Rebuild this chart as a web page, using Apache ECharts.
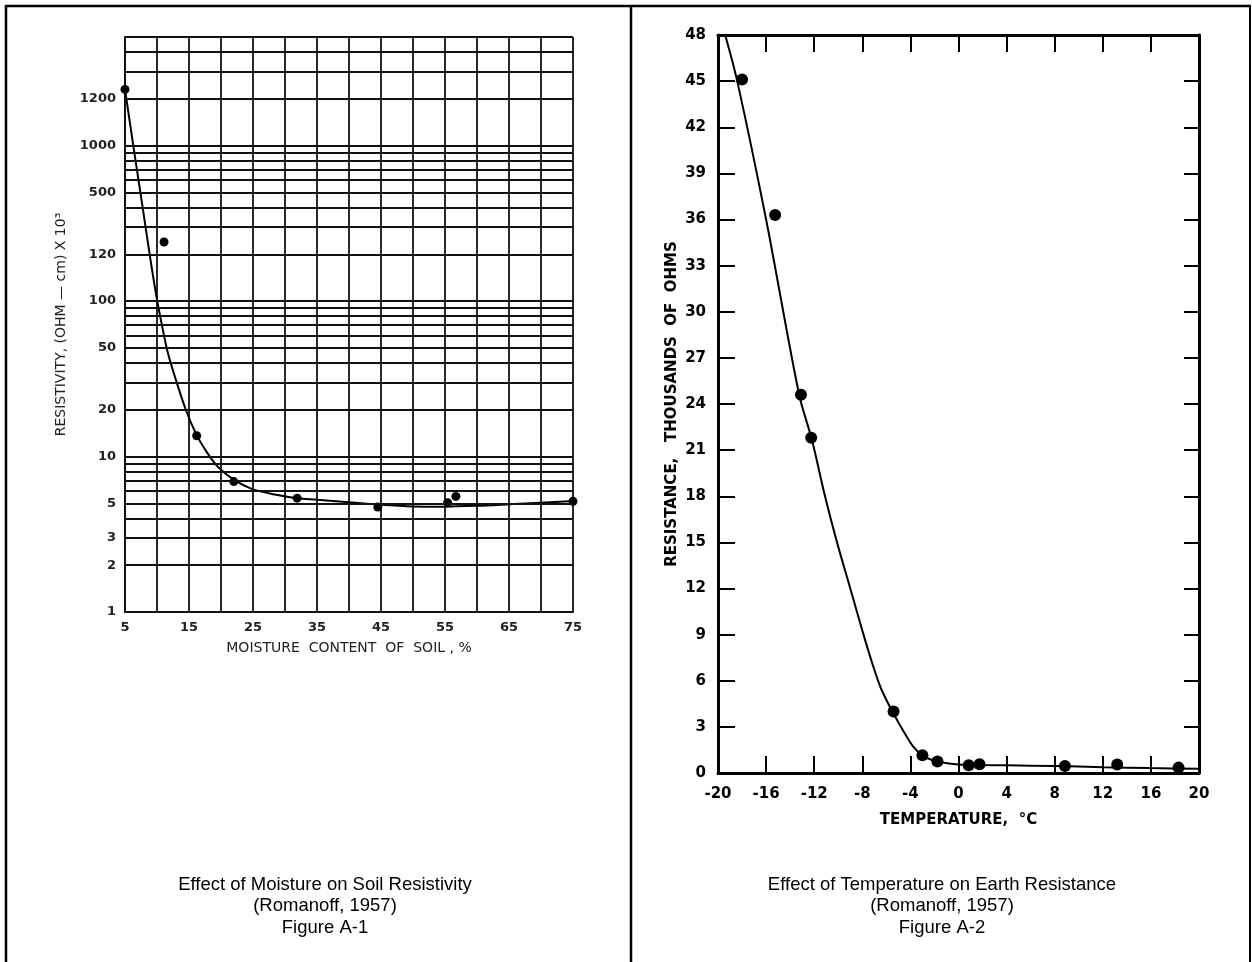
<!DOCTYPE html>
<html>
<head>
<meta charset="utf-8">
<title>Romanoff 1957 - Figures A-1 and A-2</title>
<script src="https://cdn.jsdelivr.net/npm/echarts@6.0.0/dist/echarts.min.js"></script>
<style>
  html, body { margin: 0; padding: 0; background: #fff; }
  #chart { width: 1252px; height: 962px; }
</style>
</head>
<body>
<div id="chart"></div>
<script>
// Figure A-1 : moisture content (%) vs resistivity (log scale)
const moistX = [5, 11.1, 16.2, 22.0, 31.9, 44.5, 55.4, 56.7, 75];
const moistY = [2300, 240, 13.6, 6.9, 5.4, 4.73, 5.05, 5.54, 5.15];
const moistCurveX = [5, 6.25, 7.5, 8.9, 9.85, 10.8, 11.7, 13.0, 14.5, 16.1, 17.7, 19.5, 22.0, 24.8, 28.4, 31.9, 35, 40, 45, 50, 55, 60, 65, 70, 75];
const moistCurveY = [2300, 1030, 471, 194, 111, 69, 46.4, 30.7, 20, 14.0, 10.8, 8.6, 7.1, 6.2, 5.7, 5.4, 5.28, 5.08, 4.9, 4.78, 4.76, 4.82, 4.93, 5.05, 5.17];
// horizontal rulings of the log paper
const moistGridValues = [1, 2, 3, 4, 5, 6, 7, 8, 9, 10, 20, 30, 40, 50, 60, 70, 80, 90,
  100, 200, 300, 400, 500, 600, 700, 800, 900, 1000, 2000, 3000, 4000, 5000];
// printed labels (the original sheet labels 200 as "120" and 2000 as "1200")
const moistTickValues = [1, 2, 3, 5, 10, 20, 50, 100, 200, 500, 1000, 2000];
const moistTickLabels = ['1', '2', '3', '5', '10', '20', '50', '100', '120', '500', '1000', '1200'];

// Figure A-2 : temperature (°C) vs resistance (thousands of ohms)
const tempX = [-18.0, -15.25, -13.1, -12.25, -5.4, -3.0, -1.75, 0.85, 1.75, 8.85, 13.2, 18.3];
const tempY = [45.1, 36.3, 24.6, 21.8, 4.0, 1.15, 0.75, 0.5, 0.57, 0.45, 0.55, 0.35];
const tempCurveX = [-19.4, -18.4, -16, -13.25, -12.2, -11.1, -10.1, -9.0, -7.9, -7.2, -6.5, -5.9, -5.4, -4.6, -3.8, -3.0, -2.2, -1.2, 0, 2, 4, 8, 12, 16, 20];
const tempCurveY = [48, 45, 36, 24.6, 21.7, 18, 15, 12, 9.0, 7.2, 5.6, 4.6, 3.85, 2.75, 1.75, 1.15, 0.85, 0.66, 0.56, 0.52, 0.5, 0.45, 0.38, 0.32, 0.27];

const pair = (xs, ys) => xs.map((x, i) => [x, ys[i]]);

const ink = '#000';
const letterFont = 'DejaVu Sans';

const moistLines = moistGridValues.map(v => {
  const i = moistTickValues.indexOf(v);
  return {
    yAxis: v,
    label: { show: i >= 0, formatter: i >= 0 ? moistTickLabels[i] : '' }
  };
});

const captionStyle = { fontFamily: 'Liberation Sans', fontSize: 18.5, fontWeight: 'normal', lineHeight: 21.5, color: '#000' };

const myChart = echarts.init(document.getElementById('chart'));

const option = {
  backgroundColor: '#fff',
  animation: false,
  title: [
    {
      text: 'Effect of Moisture on Soil Resistivity\n(Romanoff, 1957)\nFigure A-1',
      left: 320, top: 869, textAlign: 'center', textStyle: captionStyle
    },
    {
      text: 'Effect of Temperature on Earth Resistance\n(Romanoff, 1957)\nFigure A-2',
      left: 937, top: 869, textAlign: 'center', textStyle: captionStyle
    }
  ],
  graphic: [
    // page frame and divider
    { type: 'line', shape: { x1: 5, y1: 6, x2: 1251, y2: 6 }, style: { stroke: '#000', lineWidth: 2.5 } },
    { type: 'line', shape: { x1: 6, y1: 5, x2: 6, y2: 962 }, style: { stroke: '#000', lineWidth: 2.5 } },
    { type: 'line', shape: { x1: 631, y1: 5, x2: 631, y2: 962 }, style: { stroke: '#000', lineWidth: 2.5 } },
    { type: 'line', shape: { x1: 1250, y1: 5, x2: 1250, y2: 962 }, style: { stroke: '#000', lineWidth: 2 } }
  ],
  grid: [
    { left: 125, top: 37, width: 448, height: 575 },
    { left: 718, top: 35, width: 481, height: 738 }
  ],
  xAxis: [
    {
      gridIndex: 0, type: 'value', min: 5, max: 75, interval: 5,
      name: 'MOISTURE  CONTENT  OF  SOIL , %', nameLocation: 'middle', nameGap: 29,
      nameTextStyle: { fontFamily: letterFont, fontSize: 14, color: '#222' },
      axisLine: { onZero: false, lineStyle: { color: '#111', width: 2 } },
      axisTick: { show: false },
      splitLine: { show: true, lineStyle: { color: '#111', width: 1.8 } },
      axisLabel: {
        margin: 9, fontFamily: letterFont, fontSize: 13, fontWeight: 'bold', color: '#222',
        formatter: v => ((v - 5) % 10 === 0 ? String(v) : '')
      }
    },
    {
      gridIndex: 1, type: 'value', min: -20, max: 20, interval: 4,
      name: 'TEMPERATURE,  °C', nameLocation: 'middle', nameGap: 40,
      nameTextStyle: { fontFamily: letterFont, fontSize: 15, fontWeight: 'bold', color: ink },
      axisLine: { onZero: false, lineStyle: { color: ink, width: 3 } },
      axisTick: { inside: true, length: 17, lineStyle: { color: ink, width: 2 } },
      splitLine: { show: false },
      axisLabel: { margin: 14, fontFamily: letterFont, fontSize: 15, fontWeight: 'bold', color: ink }
    },
    {
      gridIndex: 1, type: 'value', min: -20, max: 20, interval: 4, position: 'top',
      axisLine: { onZero: false, lineStyle: { color: ink, width: 3 } },
      axisTick: { inside: true, length: 17, lineStyle: { color: ink, width: 2 } },
      splitLine: { show: false },
      axisLabel: { show: false }
    }
  ],
  yAxis: [
    {
      gridIndex: 0, type: 'log', logBase: 10, min: 1, max: 5000,
      name: 'RESISTIVITY, (OHM — cm) X 10³', nameLocation: 'middle', nameGap: 57,
      nameTextStyle: { fontFamily: letterFont, fontSize: 14, color: '#222' },
      axisLine: { onZero: false, lineStyle: { color: '#111', width: 2 } },
      axisTick: { show: false },
      splitLine: { show: false },
      axisLabel: { show: false }
    },
    {
      gridIndex: 1, type: 'value', min: 0, max: 48, interval: 3,
      name: 'RESISTANCE,   THOUSANDS  OF  OHMS', nameLocation: 'middle', nameGap: 38,
      nameTextStyle: { fontFamily: letterFont, fontSize: 15, fontWeight: 'bold', color: ink },
      axisLine: { onZero: false, lineStyle: { color: ink, width: 3 } },
      axisTick: { inside: true, length: 17, lineStyle: { color: ink, width: 2 } },
      splitLine: { show: false },
      axisLabel: { margin: 12, fontFamily: letterFont, fontSize: 15, fontWeight: 'bold', color: ink }
    },
    {
      gridIndex: 1, type: 'value', min: 0, max: 48, interval: 3, position: 'right',
      axisLine: { onZero: false, lineStyle: { color: ink, width: 3 } },
      axisTick: { inside: true, length: 15, lineStyle: { color: ink, width: 2 } },
      splitLine: { show: false },
      axisLabel: { show: false }
    }
  ],
  series: [
    {
      name: 'moisture curve', type: 'line', xAxisIndex: 0, yAxisIndex: 0,
      data: pair(moistCurveX, moistCurveY), smooth: 0.3, showSymbol: false,
      lineStyle: { color: ink, width: 2 }, silent: true, z: 3
    },
    {
      name: 'moisture points', type: 'scatter', xAxisIndex: 0, yAxisIndex: 0,
      data: pair(moistX, moistY), symbolSize: 9, itemStyle: { color: ink, opacity: 1 }, z: 4,
      markLine: {
        silent: true, symbol: 'none', animation: false,
        lineStyle: { color: '#111', width: 1.8, type: 'solid' },
        emphasis: { disabled: true },
        label: {
          position: 'start', distance: 9, fontFamily: letterFont, fontSize: 13,
          fontWeight: 'bold', color: '#222'
        },
        data: moistLines
      }
    },
    {
      name: 'temperature curve', type: 'line', xAxisIndex: 1, yAxisIndex: 1,
      data: pair(tempCurveX, tempCurveY), smooth: 0.3, showSymbol: false,
      lineStyle: { color: ink, width: 2 }, silent: true, z: 3
    },
    {
      name: 'temperature points', type: 'scatter', xAxisIndex: 1, yAxisIndex: 1,
      data: pair(tempX, tempY), symbolSize: 12, itemStyle: { color: ink, opacity: 1 }, z: 4
    }
  ]
};

myChart.setOption(option);
</script>
</body>
</html>
